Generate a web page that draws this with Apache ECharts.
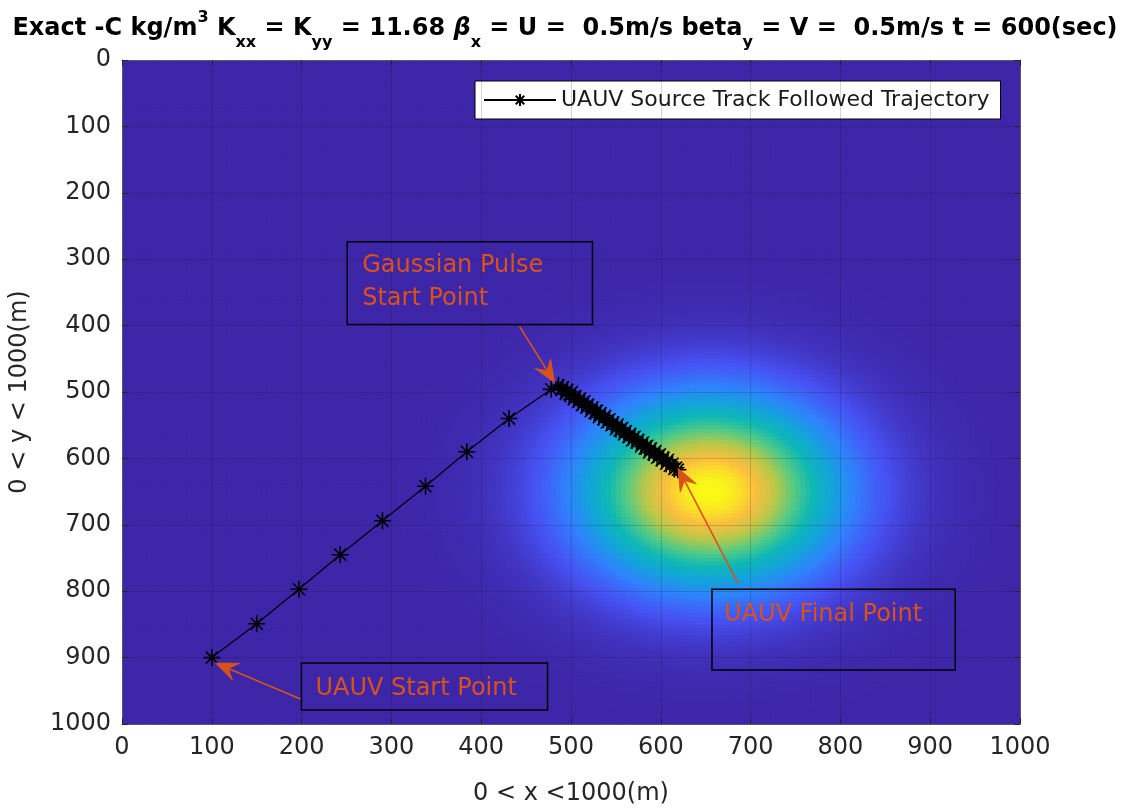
<!DOCTYPE html>
<html>
<head>
<meta charset="utf-8">
<script src="https://cdn.jsdelivr.net/npm/echarts@6/dist/echarts.min.js"></script>
<style>
  html, body { margin: 0; padding: 0; background: #ffffff; }
  #chart { width: 1130px; height: 811px; }
</style>
</head>
<body>
<div id="chart"></div>
<script>
// ---- data -------------------------------------------------------------
// UAUV track (m): approach leg from the start point, then the
// source-tracking leg that zig-zags along the plume towards its peak.
const trackX = [100, 150, 197, 243, 290, 338, 384, 431, 478,
  486, 489, 491, 494, 496, 498, 501, 503, 505, 508, 510, 512, 515, 517, 519,
  522, 524, 526, 529, 531, 533, 536, 538, 540, 543, 545, 547, 550, 552, 554,
  557, 559, 561, 564, 566, 568, 571, 573, 575, 578, 580, 582, 585, 587, 589,
  592, 594, 596, 599, 601, 603, 606, 608, 610, 613, 615, 617, 619];
const trackY = [900, 849, 797, 745, 694, 642, 590, 540, 496,
  490, 497, 493, 503, 497, 504, 500, 511, 506, 515, 510, 520, 514, 523, 519,
  529, 523, 532, 528, 538, 532, 541, 536, 546, 541, 550, 546, 556, 549, 558,
  554, 564, 559, 568, 563, 573, 567, 576, 572, 582, 576, 585, 581, 591, 585,
  594, 589, 599, 594, 603, 599, 608, 602, 611, 608, 616, 614, 617];
const seriesName = 'UAUV Source Track Followed Trajectory';

// Exact concentration field: Gaussian pulse (normalised to its peak)
const pulseCenter = [655, 650];   // m
const pulseSigma = [97, 96];      // m
const domainMax = 1000;           // m, both axes
const tickStep = 100;
const cellsPerSide = 180;

// ---- field grid -------------------------------------------------------
const cellSize = domainMax / cellsPerSide;
const field = [];
for (let j = 0; j < cellsPerSide; j++) {
  const y = (j + 0.5) * cellSize;
  for (let i = 0; i < cellsPerSide; i++) {
    const x = (i + 0.5) * cellSize;
    const gx = (x - pulseCenter[0]) / pulseSigma[0];
    const gy = (y - pulseCenter[1]) / pulseSigma[1];
    field.push([x, y, Math.exp(-0.5 * (gx * gx + gy * gy))]);
  }
}
const trackData = trackX.map((x, k) => [x, trackY[k]]);

// ---- styling ----------------------------------------------------------
const FONT = "'DejaVu Sans', sans-serif";
const INK = '#262626';
const ORANGE = '#D95319';
const parula = ['#3E26A8', '#4751F3', '#3081FD', '#13A4DB', '#0FB8B4',
                '#53CA85', '#B7C84A', '#FBBE3F', '#F9FB15'];
const asterisk = 'path://M0,-10L0,10M-10,0L10,0M-7.07,-7.07L7.07,7.07M-7.07,7.07L7.07,-7.07';

const frameAxis = (extra) => Object.assign({
  type: 'value', min: 0, max: domainMax, interval: tickStep, z: 5,
  axisLine: { show: true, onZero: false, lineStyle: { color: '#5a5a5a', width: 1 } },
  axisTick: { show: true, inside: true, length: 6, lineStyle: { color: INK } },
  axisLabel: { show: false },
  splitLine: { show: false }
}, extra);
const tickText = (v) => String(v);

// one filled cell of the concentration image, slightly overlapped to avoid seams
function renderCell(params, api) {
  const h = cellSize / 2;
  const p0 = api.coord([api.value(0) - h, api.value(1) - h]);
  const p1 = api.coord([api.value(0) + h, api.value(1) + h]);
  return {
    type: 'rect',
    shape: {
      x: Math.min(p0[0], p1[0]), y: Math.min(p0[1], p1[1]),
      width: Math.abs(p1[0] - p0[0]) + 1, height: Math.abs(p1[1] - p0[1]) + 1
    },
    style: { fill: api.visual('color') }
  };
}

const chart = echarts.init(document.getElementById('chart'), null, { renderer: 'canvas' });

chart.setOption({
  animation: false,
  backgroundColor: '#ffffff',
  title: {
    left: 'center', top: 2,
    text: '{b|Exact -C kg/m}{sup|3}{b| K}{sub|xx}{b| = K}{sub|yy}{b| = 11.68 }{g|β}{sub|x}' +
          '{b| = U =  0.5m/s beta}{sub|y}{b| = V =  0.5m/s t = 600(sec)}',
    textStyle: {
      rich: {
        b:   { fontFamily: FONT, fontWeight: 'bold', fontSize: 24, color: '#000', lineHeight: 44, verticalAlign: 'middle' },
        g:   { fontFamily: FONT, fontStyle: 'italic', fontSize: 24, color: '#000', lineHeight: 44, verticalAlign: 'middle' },
        sup: { fontFamily: FONT, fontWeight: 'bold', fontSize: 16, color: '#000', lineHeight: 44, verticalAlign: 'top', padding: [3, 0, 0, 0] },
        sub: { fontFamily: FONT, fontWeight: 'bold', fontSize: 16, color: '#000', lineHeight: 44, verticalAlign: 'bottom' }
      }
    }
  },
  grid: { left: 119, right: 110, top: 60, bottom: 86, containLabel: false },
  legend: {
    data: [seriesName],
    left: 475, top: 81,
    itemWidth: 72, itemHeight: 15,
    padding: [8, 11, 8, 8],
    backgroundColor: '#ffffff', borderColor: '#000', borderWidth: 1, borderRadius: 0,
    textStyle: { fontFamily: FONT, fontSize: 22, color: '#1a1a1a' }
  },
  visualMap: {
    show: false, type: 'continuous', seriesIndex: 0, dimension: 2,
    min: 0, max: 1, inRange: { color: parula }
  },
  xAxis: [
    frameAxis({
      position: 'bottom',
      axisLabel: { show: true, fontFamily: FONT, fontSize: 24, color: INK, margin: 12, formatter: tickText },
      splitLine: { show: true, lineStyle: { color: 'rgba(20,20,20,0.18)', width: 1 } },
      name: '0 < x <1000(m)', nameLocation: 'middle', nameGap: 58,
      nameTextStyle: { fontFamily: FONT, fontSize: 24, color: INK }
    }),
    frameAxis({ position: 'top' })
  ],
  yAxis: [
    frameAxis({
      position: 'left', inverse: true,
      axisLabel: { show: true, fontFamily: FONT, fontSize: 24, color: INK, margin: 11, formatter: tickText },
      splitLine: { show: true, lineStyle: { color: 'rgba(20,20,20,0.18)', width: 1 } },
      name: '0 < y < 1000(m)', nameLocation: 'middle', nameGap: 90, nameRotate: 90,
      nameTextStyle: { fontFamily: FONT, fontSize: 24, color: INK }
    }),
    frameAxis({ position: 'right', inverse: true })
  ],
  series: [
    {
      type: 'custom', xAxisIndex: 0, yAxisIndex: 0,
      data: field, renderItem: renderCell, clip: true,
      progressive: 0, silent: true, z: 1,
      encode: { x: 0, y: 1 }
    },
    {
      name: seriesName, type: 'line', xAxisIndex: 0, yAxisIndex: 0,
      data: trackData, z: 6,
      symbol: asterisk, symbolSize: 17, showAllSymbol: true,
      lineStyle: { color: '#000', width: 1.2 },
      itemStyle: { color: 'rgba(0,0,0,0)', borderColor: '#000', borderWidth: 1.6 },
      emphasis: { disabled: true }
    }
  ]
});

// ---- annotations (placed in data units, drawn in pixels) --------------
const notes = [
  { box: [250.8, 273.7, 523.9, 398.5], text: 'Gaussian Pulse\nStart Point', pad: [15, 41],
    tail: [442.8, 401.5], tip: [481.7, 485.7] },
  { box: [657.0, 797.0, 927.9, 918.8], text: 'UAUV Final Point', pad: [12, 26],
    tail: [685.9, 788.0], tip: [619.3, 615.0] },
  { box: [199.8, 908.3, 473.9, 979.0], text: 'UAUV Start Point', pad: [14, 26],
    tail: [198.7, 962.4], tip: [104.3, 908.3] }
];
const toPx = (p) => chart.convertToPixel({ xAxisIndex: 0, yAxisIndex: 0 }, p);
const graphics = [];
notes.forEach((n) => {
  const a = toPx([n.box[0], n.box[1]]);
  const b = toPx([n.box[2], n.box[3]]);
  graphics.push({
    type: 'rect', z: 20, silent: true,
    shape: { x: a[0], y: a[1], width: b[0] - a[0], height: b[1] - a[1] },
    style: { fill: 'none', stroke: '#000', lineWidth: 1.5 }
  });
  graphics.push({
    type: 'text', z: 21, silent: true,
    x: a[0] + n.pad[0], y: a[1] + n.pad[1],
    style: { text: n.text, fill: ORANGE, font: '24px ' + FONT, lineHeight: 33,
             verticalAlign: 'middle', align: 'left' }
  });
  const t0 = toPx(n.tail), t1 = toPx(n.tip);
  const dx = t1[0] - t0[0], dy = t1[1] - t0[1], len = Math.hypot(dx, dy);
  const ux = dx / len, uy = dy / len, px = -uy, py = ux;
  const L = 22, W = 9, notch = 0.62 * L;
  const back = [t1[0] - L * ux, t1[1] - L * uy];
  const nt = [t1[0] - notch * ux, t1[1] - notch * uy];
  graphics.push({
    type: 'line', z: 21, silent: true,
    shape: { x1: t0[0], y1: t0[1], x2: nt[0], y2: nt[1] },
    style: { stroke: ORANGE, lineWidth: 1.6 }
  });
  graphics.push({
    type: 'polygon', z: 22, silent: true,
    shape: { points: [t1, [back[0] + W * px, back[1] + W * py], nt, [back[0] - W * px, back[1] - W * py]] },
    style: { fill: ORANGE, stroke: ORANGE, lineWidth: 1 }
  });
});
chart.setOption({ graphic: graphics });
</script>
</body>
</html>
